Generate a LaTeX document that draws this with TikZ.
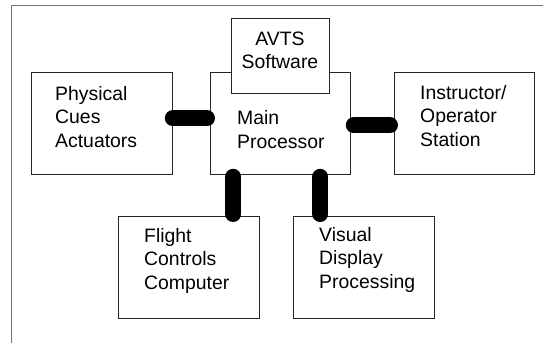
\documentclass[tikz,border=0pt]{standalone}
\usepackage{fontspec}
\setmainfont{Liberation Sans}
\begin{document}
\begin{tikzpicture}[x=1pt,y=-1pt,
  blk/.style={draw=black!85,line width=0.8pt,fill=white,anchor=north west,inner sep=0pt,
              minimum width=#1,minimum height=102pt},
  lbl/.style={anchor=base west,inner sep=0pt,align=left,
              font=\fontsize{19.4pt}{23.3pt}\selectfont},
  clbl/.style={anchor=base,inner sep=0pt,align=center,
              font=\fontsize{19.4pt}{22.5pt}\selectfont},
  bus/.style={line width=16pt,line cap=round,black},
  frame/.style={draw=black!55,line width=1pt}]
\useasboundingbox (0,0) rectangle (552,343);
% open frame: left and top edges only
\draw[frame] (11,343) -- (11,5) -- (543,5);

% blocks
\node[blk=141pt] (phys) at (31,72) {};
\node[blk=140pt] (main) at (210,72) {};
\node[blk=98pt,minimum height=75pt] (avts) at (231,18) {};
\node[blk=140pt] (inst) at (394,72) {};
\node[blk=141pt] (flt) at (118,216) {};
\node[blk=141pt] (vis) at (293,216) {};

% labels (anchored at the baseline of the last line)
\node[lbl] (physt) at (55,147) {Physical\\Cues\\Actuators};
\node[lbl] (maint) at (237,148) {Main\\Processor};
\node[clbl] (avtst) at (280,68) {AVTS\\Software};
\node[lbl] (instt) at (420,146) {Instructor/\\Operator\\Station};
\node[lbl] (fltt) at (144,289) {Flight\\Controls\\Computer};
\node[lbl] (vist) at (319,288) {Visual\\Display\\Processing};

% heavy links
\draw[bus] ([yshift=5pt]phys.east) -- ([xshift=-3pt,yshift=5pt]main.west);
\draw[bus] ([xshift=3pt,yshift=-2pt]main.east) -- ([xshift=-4pt,yshift=-2pt]inst.west);
\draw[bus] ([xshift=-47pt,yshift=-2pt]main.south) -- ([xshift=44.5pt,yshift=2pt]flt.north);
\draw[bus] ([xshift=40pt,yshift=-2pt]main.south) -- ([xshift=-43.5pt,yshift=2pt]vis.north);
\end{tikzpicture}
\end{document}
